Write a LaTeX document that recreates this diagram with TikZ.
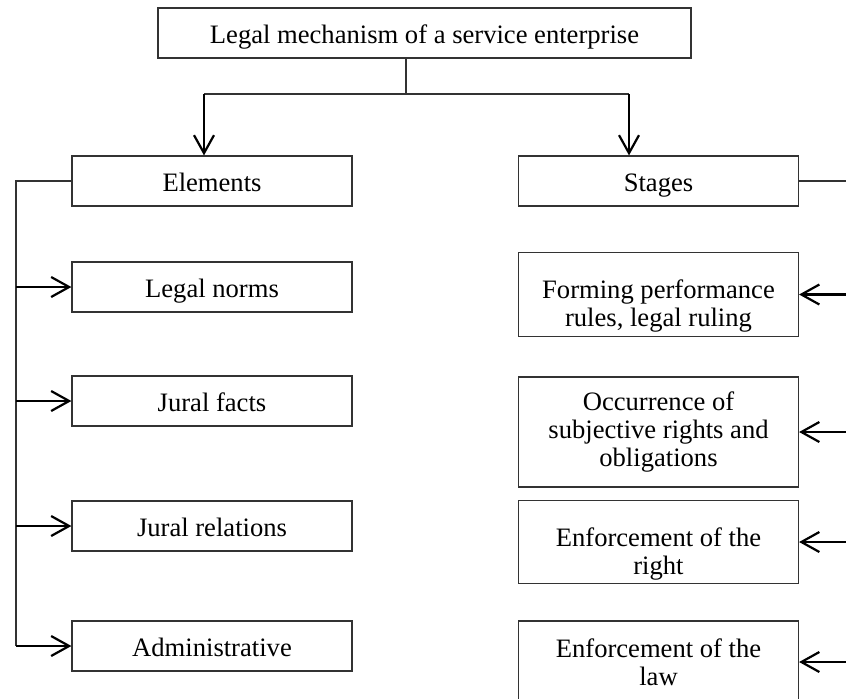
\documentclass[tikz,border=0pt]{standalone}
\usepackage{fontspec}
\setmainfont{Liberation Serif}
\usetikzlibrary{arrows.meta}
\usetikzlibrary{positioning}

\begin{document}
\begin{tikzpicture}[x=0.5pt,y=-0.5pt,
  box/.style={draw=black!80,line width=0.6pt,minimum width=140pt,
    minimum height=25pt,align=center,inner sep=2pt,
    font=\fontsize{13.3}{14}\selectfont},
  one/.style={box,text height=11pt,text depth=1pt},
  link/.style={draw=black!80,line width=0.6pt},
  arr/.style={line width=1.1pt,-{Straight Barb[length=9pt,width=10pt]}}]
  \useasboundingbox (0,0) rectangle (846,698);

  % the mechanism
  \node[one,minimum width=266.5pt] (mech) at (424.5,33)
    {Legal mechanism of a service enterprise};

  % left side: elements
  \node[one] (elem) at (212,181) {Elements};
  \node[one] (norms) at (212,287) {Legal norms};
  \node[one] (facts) at (212,401) {Jural facts};
  \node[one] (rel) at (212,526) {Jural relations};
  \node[one] (adm) at (212,646) {Administrative};

  % right side: stages
  \node[one] (stg) at (658.5,181) {Stages};
  \node[box,minimum height=40.5pt] (form) at (658.5,294.5)
    {\rule{0pt}{21pt}Forming performance\\rules, legal ruling};
  \node[box,minimum height=55pt] (occ) at (658.5,432)
    {Occurrence of\\subjective rights and\\obligations};
  \node[box,minimum height=40pt] (right) at (658.5,542)
    {\rule{0pt}{21pt}Enforcement of the\\right};
  \node[box,minimum height=41pt] (law) at (658.5,662)
    {Enforcement of the\\law};

  % split under the top box
  \coordinate (split) at (406,94);
  \coordinate (lj) at (204,94);
  \coordinate (rj) at (629,94);
  \draw[link] (split |- mech.south) -- (split);
  \draw[link] (lj) -- (rj);
  \draw[arr] (lj) -- (lj |- elem.north);
  \draw[arr] (rj) -- (rj |- stg.north);

  % left rail
  \coordinate (lrail) at (16,646);
  \draw[link] (elem.west) -| (lrail);
  \foreach \b in {norms,facts,rel,adm}
    \draw[arr] (lrail |- \b) -- (\b);

  % right rail
  \coordinate (rrail) at (850,662);
  \draw[link] (stg.east) -| (rrail);
  \foreach \b in {form,occ,right,law}
    \draw[arr] (rrail |- \b) -- (\b);
\end{tikzpicture}
\end{document}
